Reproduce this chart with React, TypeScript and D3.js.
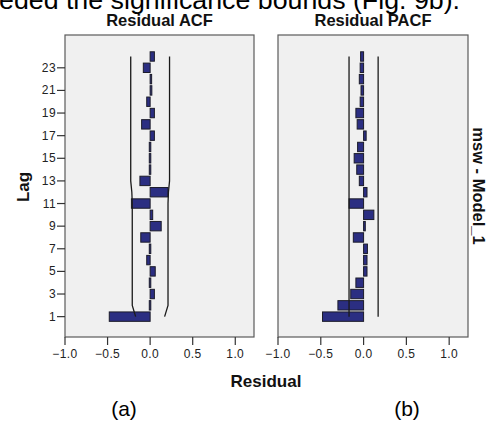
import React from "react";
import * as d3 from "d3";

const lags = d3.range(1, 25);
const acfValues = [-0.48, -0.01, 0.05, -0.01, 0.06, -0.04, -0.01, -0.11, 0.13, 0.03, -0.22, 0.21, -0.12, -0.01, -0.01, -0.01, 0.05, -0.10, 0.05, -0.04, 0.02, 0.01, -0.08, 0.05];
const pacfValues = [-0.48, -0.30, -0.15, -0.09, 0.04, 0.04, 0.045, -0.12, 0.02, 0.12, -0.17, 0.04, -0.05, -0.08, -0.11, -0.07, 0.03, -0.075, -0.09, -0.04, -0.03, -0.05, -0.04, -0.035];
const acfBounds = [0.17, 0.21, 0.21, 0.21, 0.21, 0.21, 0.21, 0.21, 0.21, 0.21, 0.21, 0.215, 0.228, 0.228, 0.228, 0.228, 0.228, 0.228, 0.228, 0.228, 0.228, 0.228, 0.228, 0.228];
const pacfBounds = lags.map(() => 0.17);
const yTickLabels = [1, 3, 5, 7, 9, 11, 13, 15, 17, 19, 21, 23];
const xTickLabels = [-1.0, -0.5, 0.0, 0.5, 1.0];

const W = 489, H = 421;
const top = 35, bottom = 337;
const BAR_FILL = "#2b2e82";
const FONT = "'Liberation Sans', Arial, sans-serif";

const y = d3.scaleLinear().domain([-0.8, 25.9]).range([bottom, top]);

function Panel({ x0, x1, values, bounds, title, showY }: any) {
  const x = d3.scaleLinear().domain([-1, 1.22]).range([x0, x1]);
  const barH = 9.4;
  const line = d3.line<number>().x((_, i) => x(bounds[i])).y((_, i) => y(lags[i]));
  const lineLow = d3.line<number>().x((_, i) => x(-bounds[i])).y((_, i) => y(lags[i]));
  return (
    <g>
      <text x={(x0 + x1) / 2} y={26} textAnchor="middle" fontFamily={FONT} fontWeight="bold" fontSize={16.5} fill="#111">{title}</text>
      <rect x={x0} y={top} width={x1 - x0} height={bottom - top} fill="#f0f0f0" stroke="#5a5a5a" strokeWidth={1.2} />
      {values.map((v: number, i: number) => {
        const a = x(Math.min(0, v)), b = x(Math.max(0, v));
        return <rect key={i} x={a} y={y(lags[i]) - barH / 2} width={Math.max(b - a, 1.5)} height={barH} fill={BAR_FILL} stroke="#1c1c2a" strokeWidth={1} />;
      })}
      <path d={line(bounds) as string} fill="none" stroke="#1a1a1a" strokeWidth={1.3} />
      <path d={lineLow(bounds) as string} fill="none" stroke="#1a1a1a" strokeWidth={1.3} />
      {xTickLabels.map((t) => (
        <g key={t}>
          <line x1={x(t)} x2={x(t)} y1={bottom} y2={bottom + 8} stroke="#333" strokeWidth={1.2} />
          <text x={x(t)} y={358} textAnchor="middle" fontFamily={FONT} fontSize={12} fill="#222" letterSpacing={0.4}>{d3.format(".1f")(t)}</text>
        </g>
      ))}
      {showY && yTickLabels.map((t) => (
        <g key={t}>
          <line x1={x0 - 8} x2={x0} y1={y(t)} y2={y(t)} stroke="#333" strokeWidth={1.2} />
          <text x={x0 - 9} y={y(t) + 4} textAnchor="end" fontFamily={FONT} fontSize={12} fill="#222" letterSpacing={0.4}>{t}</text>
        </g>
      ))}
    </g>
  );
}

export default function App() {
  return (
    <svg width={W} height={H} style={{ position: "absolute", left: 0, top: 0, background: "#fff" }}>
      <text x={-1} y={8.5} fontFamily={FONT} fontSize={25} fill="#000" textLength={461} lengthAdjust="spacingAndGlyphs">eded the significance bounds (Fig. 9b).</text>
      <Panel x0={65} x1={254} values={acfValues} bounds={acfBounds} title="Residual ACF" showY={true} />
      <Panel x0={278} x1={468} values={pacfValues} bounds={pacfBounds} title="Residual PACF" showY={false} />
      <text transform="translate(29,187) rotate(-90)" textAnchor="middle" fontFamily={FONT} fontWeight="bold" fontSize={17} fill="#111">Lag</text>
      <text x={266} y={387} textAnchor="middle" fontFamily={FONT} fontWeight="bold" fontSize={17} fill="#111">Residual</text>
      <text transform="translate(473,186) rotate(90)" textAnchor="middle" fontFamily={FONT} fontWeight="bold" fontSize={16.5} fill="#111">msw - Model_1</text>
      <text x={124} y={415.5} textAnchor="middle" fontFamily={FONT} fontSize={21} fill="#000">(a)</text>
      <text x={407} y={415.5} textAnchor="middle" fontFamily={FONT} fontSize={21} fill="#000">(b)</text>
    </svg>
  );
}
